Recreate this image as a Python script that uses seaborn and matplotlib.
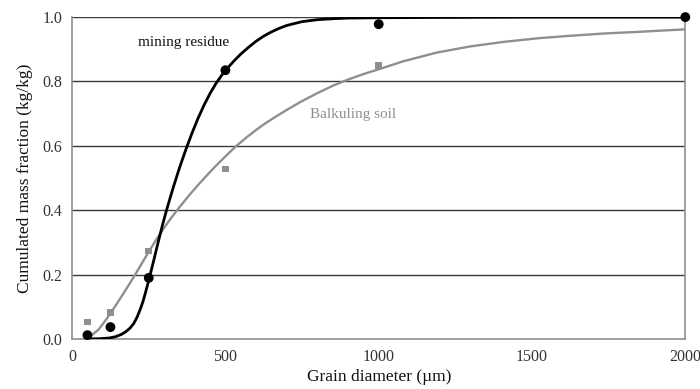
import matplotlib
matplotlib.use("Agg")
import matplotlib.pyplot as plt
import seaborn as sns

# measured points
mining_x = [50, 125, 250, 500, 1000, 2000]
mining_y = [0.012, 0.037, 0.19, 0.835, 0.978, 1.0]
soil_x = [50, 125, 250, 500, 1000]
soil_y = [0.053, 0.082, 0.274, 0.528, 0.849]

# fitted curves
mining_fit_x = [60, 90, 120, 141, 160, 174, 188, 201, 212, 223, 231, 239, 246, 252,
                266, 280, 295, 310, 330, 350, 370, 390, 410, 430, 450, 470, 490,
                500, 510, 530, 550, 575, 600, 625, 650, 675, 700, 750, 800, 850,
                900, 1000, 1200, 1500, 2000]
mining_fit_y = [0.0005, 0.001, 0.003, 0.007, 0.014, 0.022, 0.033, 0.048, 0.068, 0.094,
                0.116, 0.143, 0.168, 0.19, 0.243, 0.298, 0.355, 0.407, 0.471, 0.531,
                0.586, 0.637, 0.684, 0.726, 0.763, 0.795, 0.822, 0.834, 0.845, 0.866,
                0.885, 0.906, 0.925, 0.941, 0.954, 0.965, 0.974, 0.986, 0.992, 0.995,
                0.997, 0.998, 0.999, 1.0, 1.0]
soil_fit_x = [48, 67, 87, 106, 125, 144, 163, 185, 207, 228, 250, 274, 299, 323,
              348, 383, 418, 445, 472, 504, 537, 570, 602, 635, 668, 706, 744, 798,
              853, 900, 950, 1000, 1081, 1190, 1299, 1407, 1516, 1625, 1733, 1842,
              1920, 2000]
soil_fit_y = [0.002, 0.014, 0.030, 0.054, 0.080, 0.107, 0.135, 0.168, 0.202, 0.236,
              0.271, 0.308, 0.344, 0.376, 0.407, 0.448, 0.486, 0.514, 0.541, 0.571,
              0.601, 0.627, 0.651, 0.673, 0.693, 0.715, 0.736, 0.763, 0.788, 0.806,
              0.823, 0.838, 0.863, 0.890, 0.909, 0.923, 0.934, 0.942, 0.949, 0.954,
              0.958, 0.962]

x_ticks = [0, 500, 1000, 1500, 2000]
y_ticks = [0.0, 0.2, 0.4, 0.6, 0.8, 1.0]
y_tick_labels = ["0.0", "0.2", "0.4", "0.6", "0.8", "1.0"]

sns.set_style("white")
plt.rcParams["font.family"] = ["Liberation Serif", "DejaVu Serif"]

fig = plt.figure(figsize=(7.0, 3.89), dpi=100)
ax = fig.add_axes([0.103, 0.1285, 0.876, 0.8275])

gray = "#8f8f8f"
for y in y_ticks[1:]:
    ax.axhline(y, color="#3a3a3a", lw=1.0, zorder=1)

sns.lineplot(x=soil_fit_x, y=soil_fit_y, ax=ax, color=gray, lw=1.7, sort=True,
             estimator=None, zorder=2)
sns.scatterplot(x=soil_x, y=soil_y, ax=ax, color=gray, marker="s", s=22,
                edgecolor="none", zorder=3)
sns.lineplot(x=mining_fit_x, y=mining_fit_y, ax=ax, color="black", lw=2.0, sort=True,
             estimator=None, zorder=4)
sns.scatterplot(x=mining_x, y=mining_y, ax=ax, color="black", marker="o", s=50,
                edgecolor="none", zorder=5, clip_on=False)

ax.set_xlim(0, 2000)
ax.set_ylim(0, 1.0)
ax.set_xticks(x_ticks)
ax.set_yticks(y_ticks)
ax.set_yticklabels(y_tick_labels)
ax.tick_params(axis="both", direction="out", length=4, width=1, color=gray,
               labelsize=11.5, labelcolor="#333333", pad=3)
for side in ["left", "bottom", "right"]:
    ax.spines[side].set_color(gray)
    ax.spines[side].set_linewidth(1.2)
ax.spines["top"].set_visible(False)

ax.set_xlabel("Grain diameter (µm)", fontsize=12.5, labelpad=3, color="#111111")
ax.set_ylabel("Cumulated mass fraction (kg/kg)", fontsize=12.5, labelpad=7, color="#111111")

ax.text(362, 0.92, "mining residue", fontsize=11, color="#111111", ha="center", va="center")
ax.text(917, 0.696, "Balkuling soil", fontsize=11, color=gray, ha="center", va="center")

fig.savefig("out.png", dpi=100)
